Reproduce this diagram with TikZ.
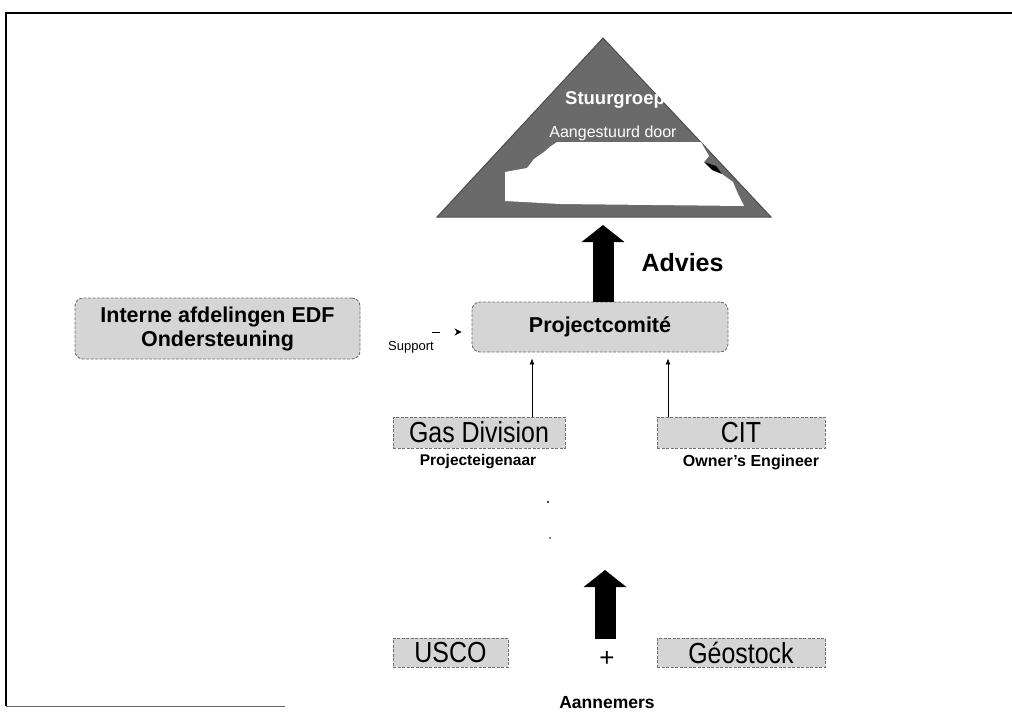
\documentclass[tikz,border=0pt]{standalone}
\usepackage{fontspec}
\setmainfont{Liberation Sans}
\usetikzlibrary{arrows.meta,calc}
\definecolor{boxfill}{HTML}{D5D5D5}
\definecolor{boxline}{HTML}{707070}
\definecolor{trifill}{HTML}{6A6A6A}
\newcommand\fsz[2]{\fontsize{#1}{#2}\selectfont}
\newcommand\narrowtxt[1]{\scalebox{0.86}[1]{#1}}
\tikzset{
  graybox/.style={draw=boxline, dash pattern=on 3pt off 1.5pt, line width=0.9pt,
    fill=boxfill, inner sep=0pt, align=center},
  rbox/.style={graybox, rounded corners=8pt},
  boxtext/.style={font=\fsz{29}{32}},
  lbl/.style={font=\bfseries\fsz{16}{18}},
  thinarrow/.style={line width=0.7pt, -{Latex[length=6pt,width=5pt]}},
  fatarrow/.style={line width=21pt, -{Triangle[length=17pt,width=42pt]}},
}
\begin{document}
\begin{tikzpicture}[x=1pt,y=-1pt]
\useasboundingbox (0,0) rectangle (1012,716);
% frame
\coordinate (fr1) at (1012,13);
\coordinate (fr2) at (6,13);
\coordinate (fr3) at (6,706);
\coordinate (fr4) at (285,706);
\draw[line width=1.3pt] (fr1) -- (fr2) -- (fr3);
\draw[line width=1pt, black!60] (fr3) -- (fr4);

% triangle (Stuurgroep)
\coordinate (apex) at (603,38);
\coordinate (bl) at (437,217);
\coordinate (br) at (771,217);
\coordinate (tribase) at (603,217);
\fill[trifill] (apex) -- (br) -- (bl) -- cycle;
\draw[black!70, line width=1pt] (apex) -- (br) -- (bl) -- cycle;
\node[text=white, font=\bfseries\fsz{18.5}{20}] (stuur) at (615,100) {Stuurgroep};
\node[text=white, font=\fsz{16}{18}] (aang) at (613,133) {Aangestuurd door};
\fill[white] (505,201) -- (505,172) -- (527,168) -- (534,159) -- (544,152)
  -- (551,146) -- (557,142) -- (701,142) -- (709,156) -- (704,162) -- (716,168)
  -- (722,174) -- (733,182) -- (738,194) -- (744,206) -- (560,204) -- cycle;
\fill[black] (704,162) -- (716,166) -- (722,174) -- (712,170) -- cycle;

% boxes
\node[rbox, minimum width=256pt, minimum height=50pt, font=\bfseries\fsz{21.5}{24}]
  (proj) at (600,327) {Projectcomité};
\node[rbox, minimum width=285pt, minimum height=61pt, font=\bfseries\fsz{21.5}{24}]
  (interne) at (217.5,328.5) {Interne afdelingen EDF\\Ondersteuning};
\node[graybox, boxtext, minimum width=172pt, minimum height=31pt]
  (gas) at (479,432.5) {\narrowtxt{Gas Division}};
\node[graybox, boxtext, minimum width=168pt, minimum height=31pt]
  (cit) at (741,432.5) {\narrowtxt{CIT}};
\node[graybox, boxtext, minimum width=115pt, minimum height=29pt]
  (usco) at (450.5,652.5) {\narrowtxt{USCO}};
\node[graybox, boxtext, minimum width=168pt, minimum height=29pt]
  (geo) at (741,652.5) {\narrowtxt{Géostock}};

% labels
\node[lbl, font=\bfseries\fsz{15.5}{18}] (peig) at (478,462) {Projecteigenaar};
\node[lbl] (owner) at (751,462) {Owner's Engineer};
\node[font=\fsz{13}{15}] (support) at (411,347) {Support};
\node[anchor=west, font=\bfseries\fsz{25}{28}] (advies) at (638,263) {Advies};
\node[font=\fsz{26}{28}] (plus) at (607,659) {+};
\node[font=\bfseries\fsz{17.5}{19}] (aann) at (607,703) {Aannemers};

% connectors
\draw[fatarrow] (proj.north -| tribase) -- ([yshift=-8pt]tribase);
\coordinate (uptip) at (605,570);
\coordinate (upbase) at (605,639);
\draw[fatarrow] (upbase) -- (uptip);
\draw[thinarrow] ([xshift=53pt]gas.north) -- ([xshift=53pt,yshift=-6pt]gas.north |- proj.south);
\draw[thinarrow] ([xshift=-73pt]cit.north) -- ([xshift=-73pt,yshift=-6pt]cit.north |- proj.south);
\draw[line width=0.8pt, dash pattern=on 8pt off 72pt, dash phase=8pt,
  -{Stealth[length=7pt,width=7pt]}]
  ([yshift=-3.5pt]interne.east) -- ([xshift=-10pt,yshift=-3.5pt]interne.east -| proj.west);

% stray dots
\coordinate (d1) at (548,502);
\coordinate (d2) at (550,538);
\fill (d1) circle (1.1pt);
\fill (d2) circle (0.9pt);
\end{tikzpicture}
\end{document}
